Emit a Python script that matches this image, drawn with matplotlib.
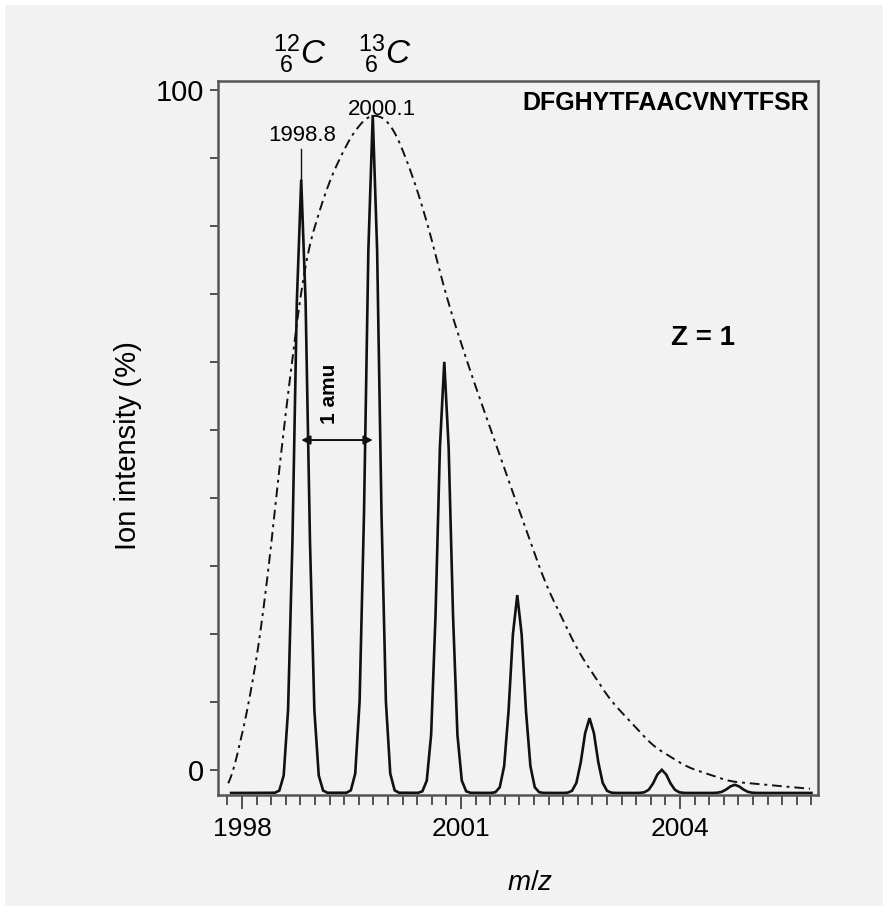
"""Isotope cluster of DFGHYTFAACVNYTFSR (Z=1) with envelope."""

import matplotlib

matplotlib.use("Agg")
import matplotlib.pyplot as plt
import numpy as np
from matplotlib.patches import Rectangle
from matplotlib.ticker import FixedLocator, MultipleLocator

# isotope peaks (m/z, height in % above the baseline)
peak_mz = [1998.81, 1999.79, 2000.77, 2001.77, 2002.76, 2003.75, 2004.75]
peak_height = [90.2, 99.7, 63.4, 29.1, 11.0, 3.4, 1.2]
baseline = -3.4
peak_sigma = 0.09
mz_start, mz_stop = 1997.85, 2005.80

# dash-dot envelope
env_mz = [1997.81, 1998.11, 1998.32, 1998.55, 1998.86, 1999.16, 1999.41,
          1999.58, 1999.78, 2000.03, 2000.26, 2000.51, 2000.81, 2001.12,
          2001.60, 2002.15, 2002.60, 2003.04, 2003.63, 2004.10, 2004.68,
          2005.78]
env_int = [-3.4, 10.3, 25.0, 48.5, 75.0, 85.7, 91.6,
           94.6, 96.6, 95.3, 89.7, 81.6, 69.1, 58.8,
           44.1, 27.5, 17.5, 10.3, 3.5, 0.4, -1.7,
           -2.8]

x_ticks_labelled = [1998, 2001, 2004]
y_ticks_labelled = [0, 100]
peptide = "DFGHYTFAACVNYTFSR"
charge = "Z = 1"

BG = "#f2f2f2"
INK = "#111111"

plt.rcParams["font.family"] = ["Liberation Sans", "DejaVu Sans"]
plt.rcParams["mathtext.fontset"] = "custom"
plt.rcParams["mathtext.rm"] = "Liberation Sans"
plt.rcParams["mathtext.it"] = "Liberation Sans:italic"

fig = plt.figure(figsize=(8.88, 9.11), dpi=100, facecolor="white")
fig.patches.append(Rectangle((5 / 888, 5 / 911), 878 / 888, 901 / 911,
                             transform=fig.transFigure, facecolor=BG,
                             edgecolor="none", zorder=-10))
ax = fig.add_axes([218 / 888, 1 - 795 / 911, 600 / 888, 714 / 911])
ax.set_facecolor(BG)

# spectrum: gaussian profiles sampled around each centroid, flat in between
offsets = np.arange(-6, 7) * 0.06
mz = np.sort(np.concatenate([[mz_start, mz_stop]]
                            + [c + offsets for c in peak_mz]))
signal = np.full_like(mz, baseline)
for c, h in zip(peak_mz, peak_height):
    signal += h * np.exp(-0.5 * ((mz - c) / peak_sigma) ** 2)
ax.plot(mz, signal, color=INK, lw=1.9, solid_joinstyle="miter")

# smooth the traced envelope a little before drawing it
env_x = np.linspace(env_mz[0], env_mz[-1], 800)
env_y = np.interp(env_x, env_mz, env_int)
kernel = np.ones(25) / 25
pad = np.concatenate([np.full(12, env_y[0]), env_y, np.full(12, env_y[-1])])
env_y = np.convolve(pad, kernel, mode="valid")
ax.plot(env_x, env_y, color=INK, lw=1.4, linestyle=(0, (5, 2.5, 1.5, 2.5)))

# labels on the two first peaks
top1 = baseline + peak_height[0]
ax.plot([peak_mz[0], peak_mz[0]], [top1, top1 + 4.5], color=INK, lw=1.0)
ax.text(peak_mz[0] + 0.02, top1 + 5, "1998.8", ha="center", va="bottom",
        fontsize=16)
top2 = baseline + peak_height[1]
ax.text(peak_mz[1] + 0.12, top2 - 0.8, "2000.1", ha="center", va="bottom",
        fontsize=16)

# isotope symbols above the frame
ax.text(peak_mz[0] - 0.02, 102.0, r"${}^{12}_{\ 6}C$", ha="center",
        va="bottom", fontsize=24, clip_on=False)
ax.text(peak_mz[1] + 0.16, 102.0, r"${}^{13}_{\ 6}C$", ha="center",
        va="bottom", fontsize=24, clip_on=False)

# 1 amu spacing
ax.annotate("", xy=(peak_mz[0], 48.5), xytext=(peak_mz[1], 48.5),
            arrowprops=dict(arrowstyle="<|-|>", color=INK, lw=1.4,
                            shrinkA=0, shrinkB=0, mutation_scale=13))
ax.text(1999.2, 50.8, "1 amu", rotation=90, ha="center", va="bottom",
        fontsize=15, fontweight="bold")

ax.text(2003.81, 98.0, peptide, ha="center", va="center", fontsize=18,
        fontweight="bold", family=["Liberation Sans Narrow", "Liberation Sans"])
ax.text(2004.32, 63.5, charge, ha="center", va="center", fontsize=20,
        fontweight="bold")

ax.set_xlim(1997.67, 2005.89)
ax.set_ylim(-3.7, 101.3)

ax.xaxis.set_major_locator(FixedLocator(x_ticks_labelled))
ax.xaxis.set_minor_locator(MultipleLocator(0.2))
ax.yaxis.set_major_locator(FixedLocator(y_ticks_labelled))
ax.yaxis.set_minor_locator(MultipleLocator(10))
ax.tick_params(axis="both", which="both", direction="out", color="#444444",
               width=1.3)
ax.tick_params(axis="x", which="major", length=10, labelsize=19, pad=6)
ax.tick_params(axis="x", which="minor", length=7)
ax.tick_params(axis="y", which="major", length=6, labelsize=21, pad=4)
ax.tick_params(axis="y", which="minor", length=6)
for lab in ax.get_xticklabels():
    lab.set_family(["Liberation Sans Narrow", "Liberation Sans"])

for spine in ax.spines.values():
    spine.set_color("#555555")
    spine.set_linewidth(1.8)

ax.set_xlabel(r"$\mathit{m/z}$", fontsize=20)
ax.xaxis.set_label_coords(0.52, -0.105)
ax.set_ylabel("Ion intensity (%)", fontsize=21)
ax.yaxis.set_label_coords(-0.127, 0.49)

fig.savefig("out.png", dpi=100, facecolor=fig.get_facecolor())
